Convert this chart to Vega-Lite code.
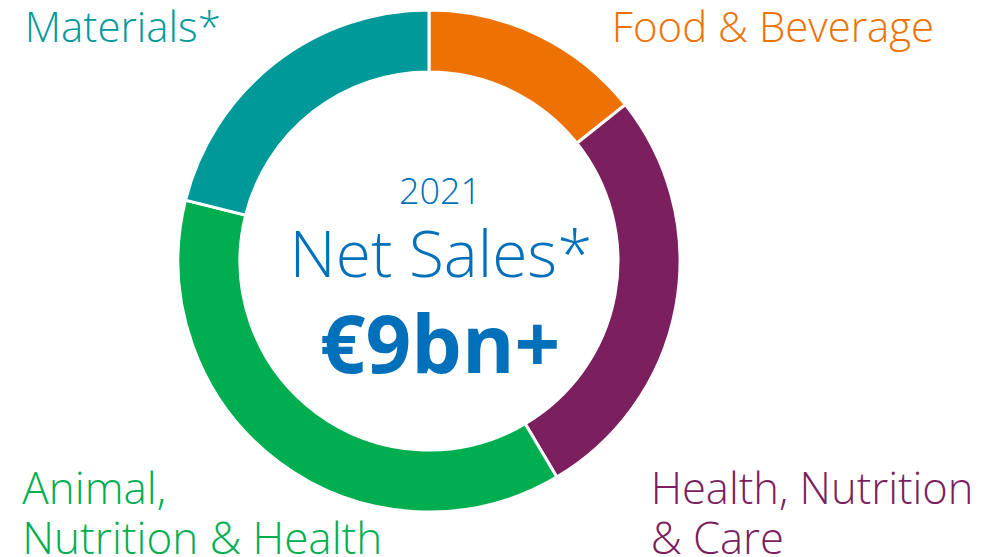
{
  "$schema": "https://vega.github.io/schema/vega-lite/v6.json",
  "width": 858,
  "height": 522,
  "autosize": {"type": "none"},
  "padding": {"left": 0, "top": 0, "right": 138, "bottom": 35},
  "background": "white",
  "config": {"view": {"stroke": null}, "font": "Open Sans"},
  "datasets": {
    "segments": [
      {"segment": "Food & Beverage", "label": "Food & Beverage", "share": 14.3, "rank": 1},
      {"segment": "Health, Nutrition & Care", "label": "Health, Nutrition\n& Care", "share": 27.2, "rank": 2},
      {"segment": "Animal, Nutrition & Health", "label": "Animal,\nNutrition & Health", "share": 37.4, "rank": 3},
      {"segment": "Materials", "label": "Materials*", "share": 21.1, "rank": 4}
    ]
  },
  "layer": [
    {
      "data": {"name": "segments"},
      "mark": {"type": "arc", "outerRadius": 251, "innerRadius": 189, "stroke": "white", "strokeWidth": 3},
      "encoding": {
        "theta": {"field": "share", "type": "quantitative", "stack": true},
        "order": {"field": "rank", "type": "quantitative"},
        "color": {
          "field": "segment",
          "type": "nominal",
          "scale": {
            "domain": ["Food & Beverage", "Health, Nutrition & Care", "Animal, Nutrition & Health", "Materials"],
            "range": ["#EE7203", "#7B1F5F", "#00AE4F", "#00999A"]
          },
          "legend": null
        }
      }
    },
    {
      "data": {"name": "segments"},
      "mark": {"type": "text", "radius": 262, "align": "left", "baseline": "alphabetic", "dx": 69, "dy": 17, "fontSize": 42, "fontWeight": 300, "color": "#EE7203", "lineBreak": "\n", "lineHeight": 50},
      "encoding": {
        "theta": {"field": "share", "type": "quantitative", "stack": true},
        "order": {"field": "rank", "type": "quantitative"},
        "text": {"condition": {"test": "datum.rank === 1", "field": "label"}, "value": ""}
      }
    },
    {
      "data": {"name": "segments"},
      "mark": {"type": "text", "radius": 262, "align": "left", "baseline": "alphabetic", "dx": -36, "dy": 196, "fontSize": 43.5, "fontWeight": 300, "color": "#7B1F5F", "lineBreak": "\n", "lineHeight": 50},
      "encoding": {
        "theta": {"field": "share", "type": "quantitative", "stack": true},
        "order": {"field": "rank", "type": "quantitative"},
        "text": {"condition": {"test": "datum.rank === 2", "field": "label"}, "value": ""}
      }
    },
    {
      "data": {"name": "segments"},
      "mark": {"type": "text", "radius": 262, "align": "left", "baseline": "alphabetic", "dx": -250, "dy": 33, "fontSize": 44, "fontWeight": 300, "color": "#00AE4F", "lineBreak": "\n", "lineHeight": 50},
      "encoding": {
        "theta": {"field": "share", "type": "quantitative", "stack": true},
        "order": {"field": "rank", "type": "quantitative"},
        "text": {"condition": {"test": "datum.rank === 3", "field": "label"}, "value": ""}
      }
    },
    {
      "data": {"name": "segments"},
      "mark": {"type": "text", "radius": 262, "align": "right", "baseline": "alphabetic", "dx": -47, "dy": -12, "fontSize": 42, "fontWeight": 300, "color": "#00999A", "lineBreak": "\n", "lineHeight": 50},
      "encoding": {
        "theta": {"field": "share", "type": "quantitative", "stack": true},
        "order": {"field": "rank", "type": "quantitative"},
        "text": {"condition": {"test": "datum.rank === 4", "field": "label"}, "value": ""}
      }
    },
    {
      "data": {"values": [{"caption": "2021"}]},
      "mark": {"type": "text", "align": "center", "baseline": "alphabetic", "dx": 11, "dy": -57, "fontSize": 36, "fontWeight": 300, "color": "#0070BA"},
      "encoding": {"text": {"field": "caption", "type": "nominal"}}
    },
    {
      "data": {"values": [{"caption": "Net Sales*"}]},
      "mark": {"type": "text", "align": "center", "baseline": "alphabetic", "dx": 12, "dy": 16, "fontSize": 64, "fontWeight": 300, "color": "#0070BA"},
      "encoding": {"text": {"field": "caption", "type": "nominal"}}
    },
    {
      "data": {"values": [{"caption": "€9bn+"}]},
      "mark": {"type": "text", "align": "center", "baseline": "alphabetic", "dx": 11, "dy": 112, "fontSize": 80, "fontWeight": 700, "color": "#0070BA"},
      "encoding": {"text": {"field": "caption", "type": "nominal"}}
    }
  ]
}
